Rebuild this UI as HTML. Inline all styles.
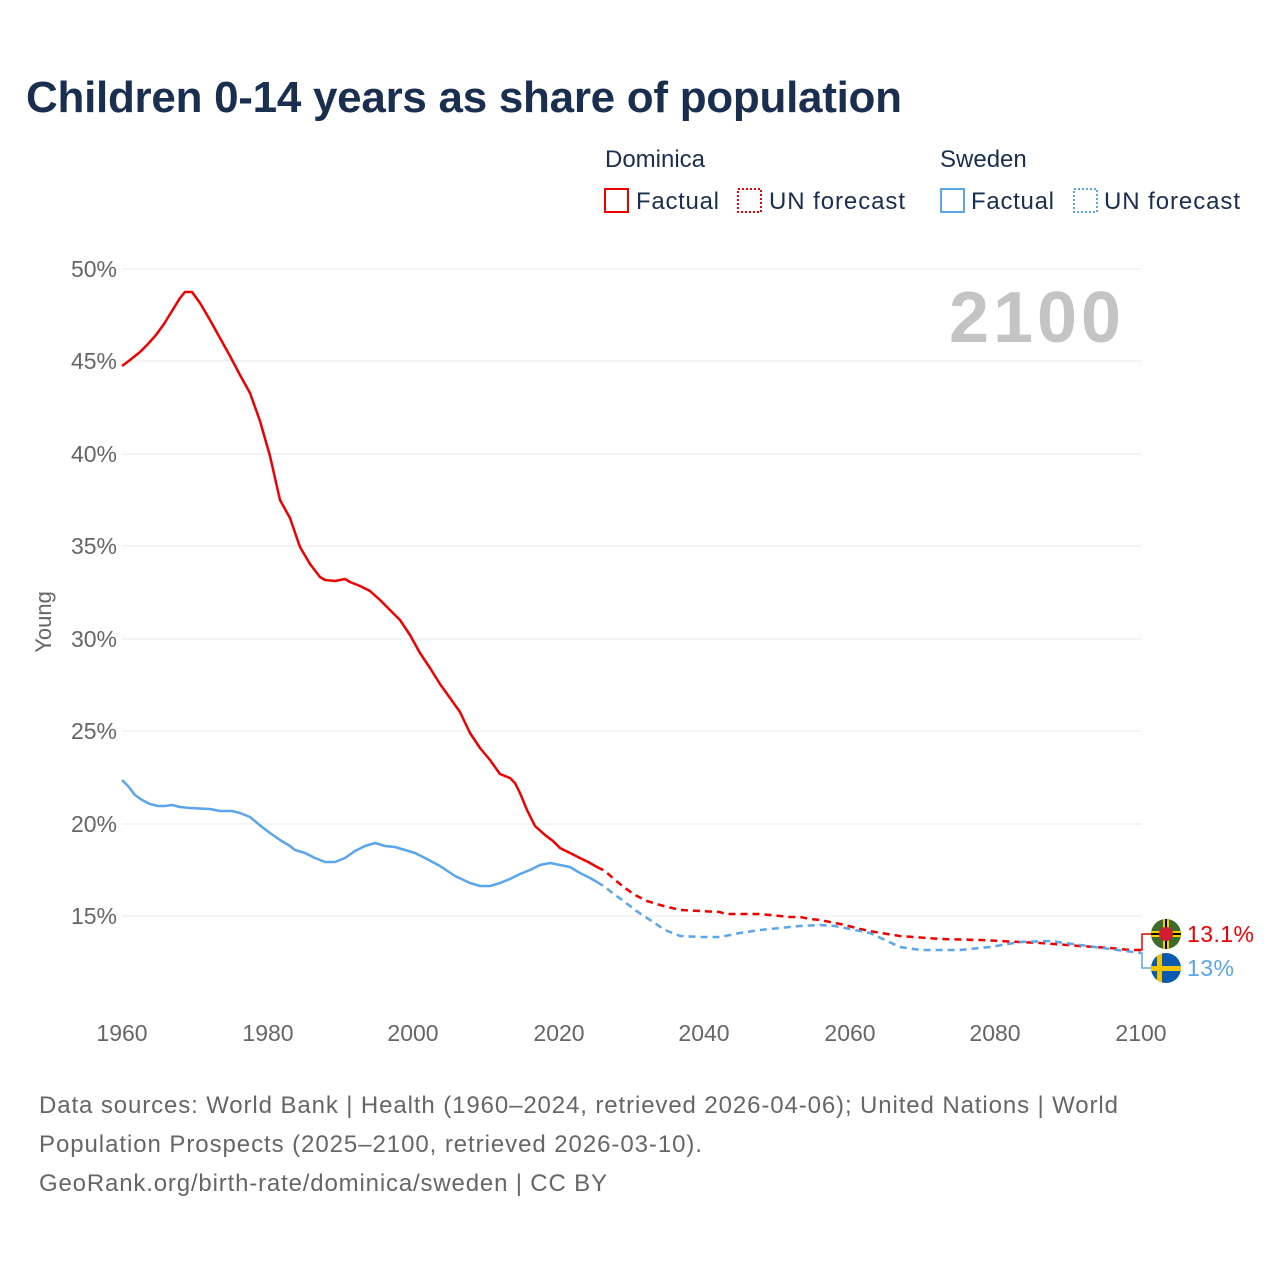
<!DOCTYPE html><html><head><meta charset="utf-8"><style>body{margin:0;background:#fff;font-family:"Liberation Sans",sans-serif}</style></head><body>
<svg width="1280" height="1280" xmlns="http://www.w3.org/2000/svg" font-family="Liberation Sans, sans-serif">
<rect width="1280" height="1280" fill="#fff"/>
<text x="26" y="112" font-size="44" font-weight="bold" fill="#1a2e4f" textLength="876">Children 0-14 years as share of population</text>
<g font-size="24" fill="#1a2e4f">
<text x="605" y="167">Dominica</text><text x="940" y="167">Sweden</text>
<rect x="605" y="189" width="23" height="23" fill="none" stroke="#e00" stroke-width="2"/><text x="636" y="209" textLength="83">Factual</text>
<rect x="738" y="189" width="23" height="23" fill="none" stroke="#e00" stroke-width="2" stroke-dasharray="2,2"/><text x="769" y="209" textLength="136">UN forecast</text>
<rect x="941" y="189" width="23" height="23" fill="none" stroke="#5aa5ec" stroke-width="2"/><text x="971" y="209" textLength="83">Factual</text>
<rect x="1074" y="189" width="23" height="23" fill="none" stroke="#5aa5ec" stroke-width="2" stroke-dasharray="2,2"/><text x="1104" y="209" textLength="136">UN forecast</text>
</g>
<g stroke="#e8e8e8" stroke-width="1">
<line x1="122" x2="1141" y1="269" y2="269"/><line x1="122" x2="1141" y1="361" y2="361"/><line x1="122" x2="1141" y1="454" y2="454"/><line x1="122" x2="1141" y1="546" y2="546"/><line x1="122" x2="1141" y1="639" y2="639"/><line x1="122" x2="1141" y1="731" y2="731"/><line x1="122" x2="1141" y1="824" y2="824"/><line x1="122" x2="1141" y1="916" y2="916"/>
</g>
<g font-size="23" fill="#666" text-anchor="end">
<text x="117" y="277">50%</text><text x="117" y="369">45%</text><text x="117" y="462">40%</text><text x="117" y="554">35%</text><text x="117" y="647">30%</text><text x="117" y="739">25%</text><text x="117" y="832">20%</text><text x="117" y="924">15%</text>
</g>
<text transform="translate(51,622) rotate(-90)" font-size="22" fill="#666" text-anchor="middle">Young</text>
<g font-size="23" fill="#666" text-anchor="middle">
<text x="122" y="1041">1960</text><text x="268" y="1041">1980</text><text x="413" y="1041">2000</text><text x="559" y="1041">2020</text><text x="704" y="1041">2040</text><text x="850" y="1041">2060</text><text x="995" y="1041">2080</text><text x="1141" y="1041">2100</text>
</g>
<text x="1121" y="342" font-size="72" font-weight="bold" fill="#c4c4c4" text-anchor="end" textLength="172">2100</text>
<g fill="none" stroke-width="2.5" stroke-linejoin="round">
<polyline stroke="#e00" points="122,366 130,360 140,352 148,344 156,335 164,324 172,311 180,298 185,292 192,292 200,303 210,320 220,338 230,356 240,375 250,393 260,421 270,456 280,500 290,518 300,547 310,564 320,577 325,580 335,581 340,580 345,579 350,582 360,586 370,591 380,600 390,610 400,620 410,635 420,653 430,668 440,684 450,698 460,712 470,733 480,748 490,760 500,774 510,778 515,783 520,793 527,810 535,826 545,835 553,841 560,848 570,853 580,858 590,863 597,867"/>
<polyline stroke="#e00" stroke-dasharray="7,5" points="597,867 605,871 615,880 625,888 635,895 647,901 660,905 680,910 700,911 720,912 725,914 760,914 790,917 800,917 810,919 820,920 830,922 845,925 860,929 875,932 900,936 940,939 980,940 1000,941 1040,943 1080,946 1110,948 1130,950 1141,950"/>
<polyline stroke="#5aa5ec" points="122,780 128,786 135,795 142,800 150,804 158,806 165,806 172,805 180,807 190,808 210,809 220,811 232,811 240,813 250,817 262,827 270,833 280,840 290,846 295,850 305,853 315,858 325,862 335,862 345,858 355,851 365,846 375,843 385,846 395,847 405,850 415,853 425,858 440,866 455,876 470,883 480,886 490,886 500,883 510,879 520,874 530,870 540,865 550,863 560,865 570,867 580,873 590,878 597,882"/>
<polyline stroke="#5aa5ec" stroke-dasharray="7,5" points="597,882 605,887 615,895 625,902 635,910 650,920 665,930 680,936 700,937 720,937 740,933 760,930 780,928 800,926 820,925 835,926 850,929 870,933 900,947 920,950 960,950 990,947 1020,942 1050,941 1080,945 1110,949 1141,953"/>
<polyline stroke="#e00" stroke-width="1.5" points="1141,950 1142,950 1142,934 1152,934"/>
<polyline stroke="#5aa5ec" stroke-width="1.5" points="1141,953 1142,953 1142,968 1152,968"/>
</g>
<defs><clipPath id="c1"><circle cx="1166" cy="934" r="15"/></clipPath><clipPath id="c2"><circle cx="1166" cy="968" r="15"/></clipPath></defs>
<g clip-path="url(#c1)"><rect x="1150" y="918" width="32" height="32" fill="#3e6b2a"/><rect x="1163" y="918" width="6" height="32" fill="#f5d000"/><rect x="1150" y="931" width="32" height="6" fill="#f5d000"/><rect x="1165" y="918" width="2" height="32" fill="#000"/><rect x="1150" y="933" width="32" height="2" fill="#000"/><circle cx="1166" cy="934" r="7" fill="#d41c30"/></g>
<g clip-path="url(#c2)"><rect x="1150" y="952" width="32" height="32" fill="#0a5bb0"/><rect x="1157" y="952" width="5" height="32" fill="#f5c400"/><rect x="1150" y="966" width="32" height="5" fill="#f5c400"/></g>
<text x="1187" y="942" font-size="23" fill="#e00" textLength="67">13.1%</text>
<text x="1187" y="976" font-size="23" fill="#5aa5ec" textLength="47">13%</text>
<g font-size="24" fill="#666">
<text x="39" y="1113" textLength="1079">Data sources: World Bank | Health (1960–2024, retrieved 2026-04-06); United Nations | World</text>
<text x="39" y="1152" textLength="663">Population Prospects (2025–2100, retrieved 2026-03-10).</text>
<text x="39" y="1191" textLength="568">GeoRank.org/birth-rate/dominica/sweden | CC BY</text>
</g>
</svg></body></html>
